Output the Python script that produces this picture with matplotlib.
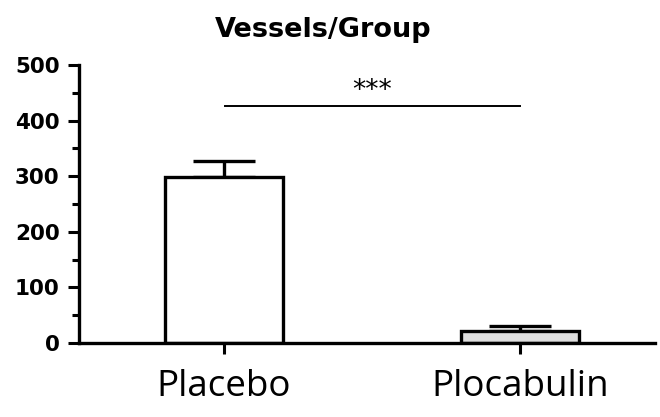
import matplotlib
matplotlib.use("Agg")
import matplotlib.pyplot as plt
from matplotlib.ticker import MultipleLocator

categories = ["Placebo", "Plocabulin"]
means = [298, 22]
errors_upper = [29, 8]
sig_y = 426
sig_label = "***"

fig = plt.figure(figsize=(6.6, 4.17), dpi=100)
ax = fig.add_axes([0.1197, 0.1775, 0.8723, 0.6665])

x = [0, 1]
colors = ["white", "#dedede"]
ax.bar(x, means, width=0.40, color=colors, edgecolor="black", linewidth=2.4, zorder=2)
ax.errorbar(x, means, yerr=[[0, 0], errors_upper], fmt="none", ecolor="black",
            elinewidth=2.4, capsize=22, capthick=2.4, zorder=1)

ax.plot([0.005, 1.0], [sig_y, sig_y], color="black", linewidth=1.4)
ax.text(0.5, sig_y + 4, sig_label, ha="center", va="bottom", fontsize=19,
        family="DejaVu Sans")

ax.set_xlim(-0.49, 1.456)
ax.set_ylim(0, 500)
ax.yaxis.set_major_locator(MultipleLocator(100))
ax.yaxis.set_minor_locator(MultipleLocator(50))
ax.set_xticks(x)
ax.set_xticklabels(categories, fontsize=26.5, family="Open Sans")
for s in ["top", "right"]:
    ax.spines[s].set_visible(False)
for s in ["left", "bottom"]:
    ax.spines[s].set_linewidth(2.4)
ax.tick_params(axis="y", which="major", length=8, width=2.2, labelsize=15.5, pad=6)
ax.tick_params(axis="y", which="minor", length=5, width=2.2)
ax.tick_params(axis="x", which="major", length=8, width=2.2, pad=11)
for lab in ax.get_yticklabels():
    lab.set_fontweight("bold")
    lab.set_family("DejaVu Sans")

fig.text(0.49, 0.928, "Vessels/Group", ha="center", va="center", fontsize=19.5,
         fontweight="bold", family="DejaVu Sans")

fig.savefig("out.png", dpi=100)
